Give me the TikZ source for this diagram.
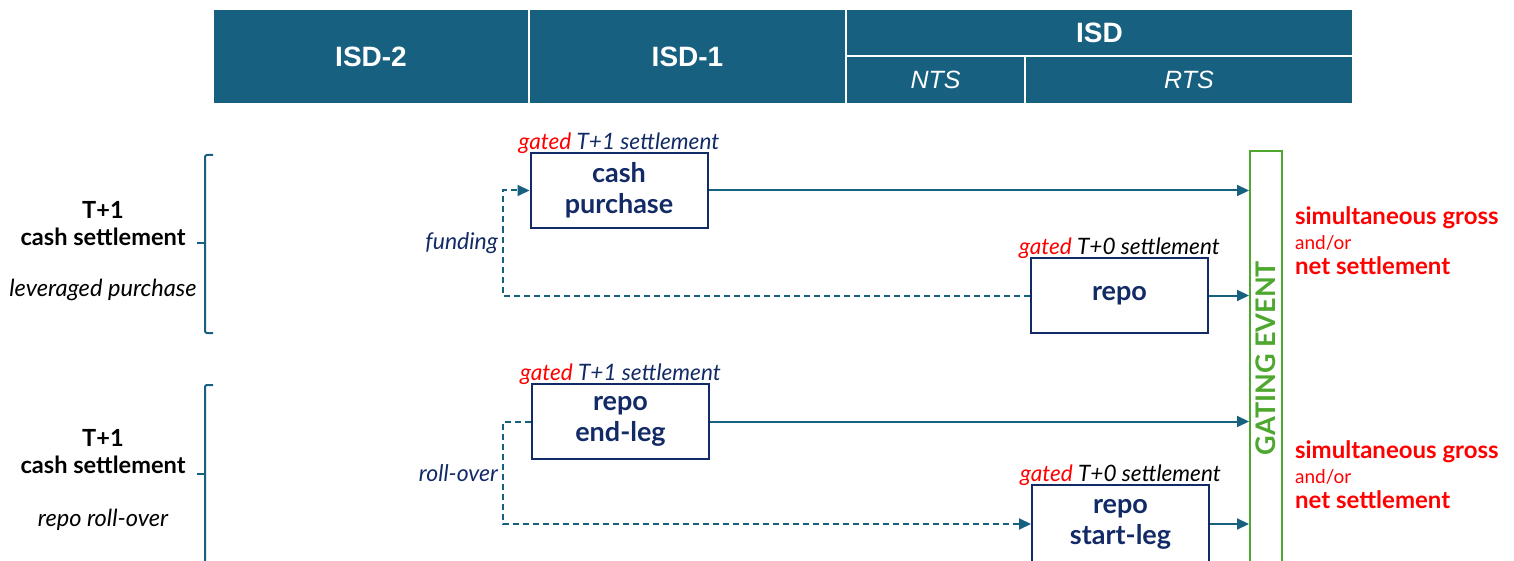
\documentclass[tikz,border=0pt]{standalone}
\usepackage{fontspec}
\setmainfont{Lato}
\newfontfamily\headfont{Liberation Sans}
\usetikzlibrary{arrows.meta,positioning}
\definecolor{isdblue}{RGB}{23,96,128}
\definecolor{boxnavy}{RGB}{18,42,102}
\definecolor{gategreen}{RGB}{78,167,46}
\definecolor{settred}{RGB}{255,0,0}
\begin{document}
\begin{tikzpicture}[x=0.5pt,y=-0.5pt] % 1 unit = 1 px of the reference
\tikzstyle{hdr} = [fill=isdblue, draw=white, line width=1pt, text=white, inner sep=0pt] % header cells
\tikzstyle{hdrbig} = [hdr, font=\headfont\bfseries\fontsize{14}{16}\selectfont]
\tikzstyle{hdrsub} = [hdr, font=\headfont\itshape\fontsize{12.5}{14}\selectfont]
\tikzstyle{procbox} = [draw=boxnavy, line width=1pt, text=boxnavy, align=center, minimum width=88.5pt, minimum height=37.5pt, font=\bfseries\fontsize{13.5}{15.5}\selectfont] % trade boxes
\tikzstyle{gatelabel} = [font=\itshape\fontsize{11.3}{12}\selectfont, yshift=-4.5pt]
\tikzstyle{flow} = [draw=isdblue, line width=1pt, -{Triangle[length=6pt,width=5.5pt]}] % solid arrows
\tikzstyle{dashflow} = [flow, dash pattern=on 3pt off 2pt] % dashed arrows
\tikzstyle{brace} = [draw=isdblue, line width=1pt, rounded corners=1pt]
\tikzstyle{sidetext} = [align=center, font=\bfseries\fontsize{11.8}{13.5}\selectfont]
\tikzstyle{sideital} = [font=\itshape\fontsize{11.8}{13}\selectfont]
\tikzstyle{looplabel} = [left, text=boxnavy, font=\itshape\fontsize{11.5}{13}\selectfont, inner sep=2pt]
\tikzstyle{redtext} = [anchor=west, align=left, text=settred, font=\bfseries\fontsize{12}{12.5}\selectfont]

\useasboundingbox (0,0) rectangle (1514,561);

% header
\node[hdrbig, minimum width=158pt, minimum height=47.5pt] (isdtwo) at (371,56.5) {ISD-2};
\node[hdrbig, minimum width=158.5pt, minimum height=47.5pt] (isdone) at (687.5,56.5) {ISD-1};
\node[hdrbig, minimum width=253.5pt, minimum height=23.5pt] (isd) at (1099.5,32.5) {ISD};
\node[hdrsub, minimum width=89.5pt, minimum height=24pt] (nts) at (935.5,80) {NTS};
\node[hdrsub, minimum width=164pt, minimum height=24pt] (rts) at (1189,80) {RTS};

% left side
\node[sidetext] (levhead) at (103,223.5) {T+1\\cash settlement};
\node[sideital] (levtxt) at (103,290) {leveraged purchase};
\node[sidetext] (rollhead) at (103,452) {T+1\\cash settlement};
\node[sideital] (rolltxt) at (103,520) {repo roll-over};
\draw[brace] (213,155) -- (205,155) -- (205,333) -- (213,333);
\draw[brace] (205,243) -- (197,243);
\draw[brace] (213,385) -- (205,385) -- (205,600);
\draw[brace] (205,474) -- (197,474);

% boxes
\node[procbox, label={[gatelabel, text=boxnavy]above:{\color{settred}gated} T+1 settlement}] (cash) at (619,190.5) {cash\\purchase};
\node[procbox, label={[gatelabel]above:{\color{settred}gated} T+0 settlement}] (repo) at (1119.5,295.5) {repo};
\node[procbox, label={[gatelabel, text=boxnavy]above:{\color{settred}gated} T+1 settlement}] (endleg) at (620.5,421.5) {repo\\end-leg};
\node[procbox, minimum height=39pt, label={[gatelabel]above:{\color{settred}gated} T+0 settlement}] (startleg) at (1120.5,524) {repo\\start-leg};

% gating event
\node[draw=gategreen, line width=1pt, minimum width=16pt, minimum height=225pt] (gate) at (1266,376) {};
\node[rotate=90, text=gategreen, font=\bfseries\fontsize{13.5}{15}\selectfont] (gatetxt) at (1266,358) {GATING EVENT};

% arrows
\draw[flow] (cash.east) -- (cash.east -| gate.west);
\draw[flow] (repo.east) -- (repo.east -| gate.west);
\draw[flow] (endleg.east) -- (endleg.east -| gate.west);
\draw[flow] (startleg.east) -- (startleg.east -| gate.west);
\coordinate (fundbend) at (503,295.5);
\coordinate (rollbend) at (503,421.5);
\draw[dashflow] (repo.west) -- (fundbend) |- node[pos=0.25, looplabel] {funding} (cash.west);
\draw[dashflow] (endleg.west) -- (rollbend) |- node[pos=0.25, looplabel] {roll-over} (startleg.west);

% settlement notes
\node[redtext] (settone) at (1288,241) {simultaneous gross\\{\mdseries\fontsize{9.5}{12.5}\selectfont and/or}\\net settlement};
\node[redtext] (setttwo) at (1288,475) {simultaneous gross\\{\mdseries\fontsize{9.5}{12.5}\selectfont and/or}\\net settlement};
\end{tikzpicture}
\end{document}
